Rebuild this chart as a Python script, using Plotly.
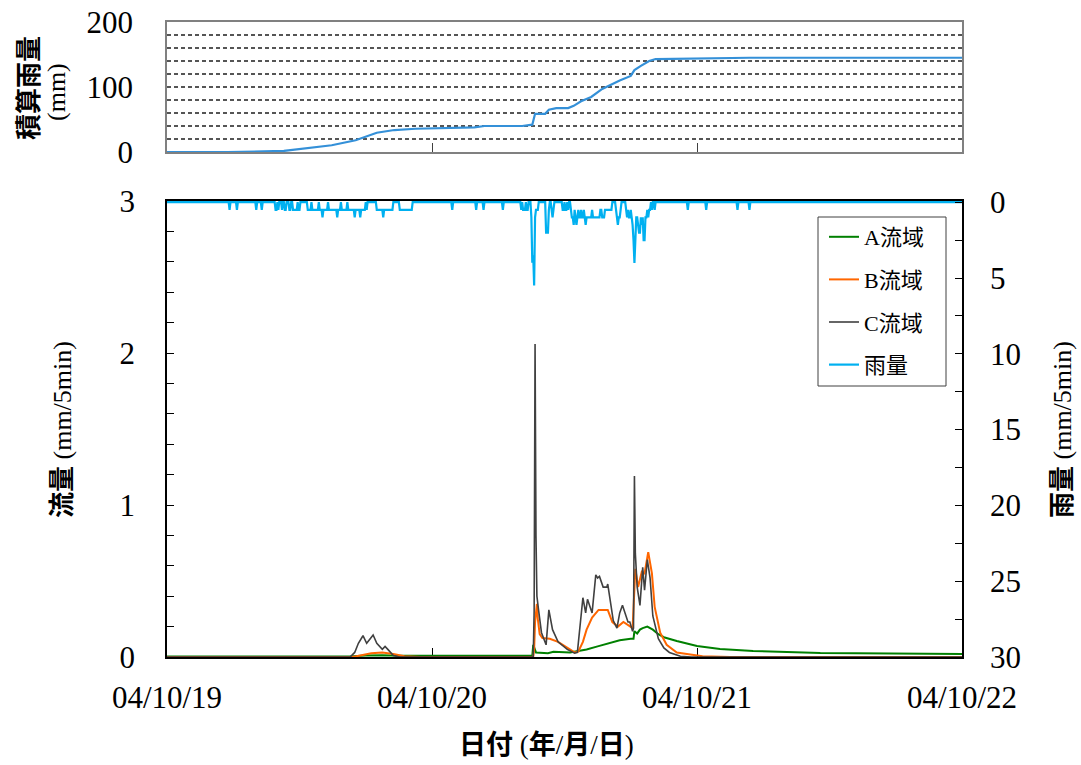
import pandas as pd
import plotly.graph_objects as go

# ---------------- data ----------------
# Cumulative rainfall (mm)
cum_time = ["2004-10-19 00:00", "2004-10-19 05:30", "2004-10-19 10:35", "2004-10-19 14:55",
            "2004-10-19 17:05", "2004-10-19 19:00", "2004-10-19 20:35", "2004-10-19 22:30",
            "2004-10-20 03:50", "2004-10-20 04:45", "2004-10-20 08:10", "2004-10-20 09:05",
            "2004-10-20 09:20", "2004-10-20 10:15", "2004-10-20 10:35", "2004-10-20 11:15",
            "2004-10-20 12:20", "2004-10-20 12:50", "2004-10-20 13:30", "2004-10-20 14:25",
            "2004-10-20 15:25", "2004-10-20 16:00", "2004-10-20 17:00", "2004-10-20 18:00",
            "2004-10-20 18:20", "2004-10-20 18:55", "2004-10-20 19:40", "2004-10-20 20:15",
            "2004-10-21 00:50", "2004-10-21 04:45", "2004-10-22 00:00"]
cum_rain = [0, 0, 1.6, 10.4, 18, 29.6, 33.8, 35.8, 37.9, 40, 40, 42, 58.7, 58.7, 65, 67.5,
            67.5, 71, 78, 84.7, 97, 102, 110, 117, 126, 132.5, 140, 143, 144, 145, 145]

# A basin discharge (mm/5min)
a_time = ["2004-10-19 00:00", "2004-10-19 16:30", "2004-10-19 18:00", "2004-10-19 19:30",
          "2004-10-19 21:00", "2004-10-20 09:05", "2004-10-20 09:10", "2004-10-20 09:25",
          "2004-10-20 10:30", "2004-10-20 11:00", "2004-10-20 12:30", "2004-10-20 14:00",
          "2004-10-20 15:00", "2004-10-20 16:00", "2004-10-20 17:00", "2004-10-20 18:00",
          "2004-10-20 18:15", "2004-10-20 18:20", "2004-10-20 18:35", "2004-10-20 18:50",
          "2004-10-20 19:05", "2004-10-20 19:30", "2004-10-20 20:00", "2004-10-20 20:30",
          "2004-10-20 21:00", "2004-10-20 22:10", "2004-10-21 00:00", "2004-10-21 02:05",
          "2004-10-21 05:05", "2004-10-21 11:10", "2004-10-22 00:00"]
a_flow = [0.003, 0.004, 0.010, 0.012, 0.008, 0.008, 0.08, 0.03, 0.025, 0.035, 0.03, 0.05,
          0.07, 0.09, 0.11, 0.12, 0.12, 0.17, 0.155, 0.18, 0.19, 0.20, 0.18, 0.15, 0.13,
          0.105, 0.072, 0.053, 0.04, 0.026, 0.02]

# B basin discharge (mm/5min)
b_time = ["2004-10-19 00:00", "2004-10-19 16:50", "2004-10-19 17:30", "2004-10-19 18:30",
          "2004-10-19 19:30", "2004-10-19 20:30", "2004-10-19 21:30", "2004-10-19 23:00",
          "2004-10-20 09:10", "2004-10-20 09:15", "2004-10-20 09:20", "2004-10-20 09:30",
          "2004-10-20 09:35", "2004-10-20 09:45", "2004-10-20 10:00", "2004-10-20 10:40",
          "2004-10-20 11:25", "2004-10-20 12:15", "2004-10-20 12:55", "2004-10-20 13:15",
          "2004-10-20 13:40", "2004-10-20 14:00", "2004-10-20 14:30", "2004-10-20 15:05",
          "2004-10-20 15:30", "2004-10-20 15:55", "2004-10-20 16:20", "2004-10-20 16:50",
          "2004-10-20 17:20", "2004-10-20 17:45", "2004-10-20 18:10", "2004-10-20 18:25",
          "2004-10-20 18:40", "2004-10-20 19:00", "2004-10-20 19:15", "2004-10-20 19:35",
          "2004-10-20 19:55", "2004-10-20 20:10", "2004-10-20 20:40", "2004-10-20 21:15",
          "2004-10-20 22:10", "2004-10-20 23:05", "2004-10-21 00:30", "2004-10-21 03:00",
          "2004-10-22 00:00"]
b_flow = [0.0, 0.0, 0.01, 0.025, 0.03, 0.02, 0.005, 0.0, 0.0, 0.05, 0.23, 0.35, 0.25, 0.15,
          0.125, 0.12, 0.10, 0.06, 0.03, 0.035, 0.10, 0.18, 0.26, 0.31, 0.31, 0.31, 0.23,
          0.20, 0.23, 0.21, 0.19, 0.58, 0.46, 0.56, 0.55, 0.69, 0.55, 0.33, 0.16, 0.08,
          0.03, 0.02, 0.005, 0.0, 0.0]

# C basin discharge (mm/5min)
c_time = ["2004-10-19 00:00", "2004-10-19 16:35", "2004-10-19 17:00", "2004-10-19 17:20",
          "2004-10-19 17:45", "2004-10-19 18:05", "2004-10-19 18:40", "2004-10-19 19:00",
          "2004-10-19 19:30", "2004-10-19 19:45", "2004-10-19 20:00", "2004-10-19 20:30",
          "2004-10-19 21:05", "2004-10-20 09:10", "2004-10-20 09:15", "2004-10-20 09:20",
          "2004-10-20 09:25", "2004-10-20 09:30", "2004-10-20 09:40", "2004-10-20 09:55",
          "2004-10-20 10:20", "2004-10-20 10:35", "2004-10-20 10:55", "2004-10-20 11:25",
          "2004-10-20 12:15", "2004-10-20 12:55", "2004-10-20 13:10", "2004-10-20 13:40",
          "2004-10-20 13:55", "2004-10-20 14:05", "2004-10-20 14:30", "2004-10-20 14:50",
          "2004-10-20 15:00", "2004-10-20 15:10", "2004-10-20 15:30", "2004-10-20 15:50",
          "2004-10-20 15:55", "2004-10-20 16:10", "2004-10-20 16:25", "2004-10-20 16:45",
          "2004-10-20 17:00", "2004-10-20 17:15", "2004-10-20 17:30", "2004-10-20 17:45",
          "2004-10-20 17:55", "2004-10-20 18:10", "2004-10-20 18:15", "2004-10-20 18:20",
          "2004-10-20 18:25", "2004-10-20 18:35", "2004-10-20 18:50", "2004-10-20 19:05",
          "2004-10-20 19:15", "2004-10-20 19:30", "2004-10-20 19:45", "2004-10-20 20:00",
          "2004-10-20 20:30", "2004-10-20 21:00", "2004-10-20 21:30", "2004-10-20 22:30",
          "2004-10-20 23:30", "2004-10-22 00:00"]
c_flow = [0.0, 0.0, 0.03, 0.09, 0.14, 0.09, 0.145, 0.09, 0.05, 0.07, 0.05, 0.01, 0.0, 0.0,
          0.3, 2.06, 0.8, 0.4, 0.3, 0.16, 0.08, 0.31, 0.18, 0.10, 0.05, 0.025, 0.03, 0.39,
          0.29, 0.38, 0.29, 0.54, 0.52, 0.53, 0.46, 0.46, 0.48, 0.37, 0.24, 0.19, 0.29, 0.34,
          0.29, 0.23, 0.23, 0.17, 0.19, 1.19, 0.68, 0.46, 0.34, 0.59, 0.44, 0.64, 0.52, 0.27,
          0.12, 0.06, 0.03, 0.005, 0.0, 0.0]

# 5-minute rainfall (mm): start of each rainy spell and its consecutive 5-min totals.
# Intervals not listed had no rain.
rain_spells = [
    ("2004-10-19 05:40", [0.5]),
    ("2004-10-19 06:20", [0.5]),
    ("2004-10-19 08:05", [0.5]),
    ("2004-10-19 08:35", [0.5]),
    ("2004-10-19 09:50", [0.5, 0.5, 0.0, 0.5]),
    ("2004-10-19 10:25", [0.5, 0.0, 0.0, 0.5, 0.5]),
    ("2004-10-19 11:05", [0.5, 0.5, 0.0, 0.0, 0.5, 0.5, 0.5, 0.5, 0.5, 0.0, 0.5, 0.5]),
    ("2004-10-19 12:45", [0.5, 0.5, 0.5, 0.5, 0.0, 0.5, 0.5, 0.5, 0.5, 0.5, 0.5, 0.5,
                          0.0, 0.5, 0.5, 0.5, 1.0]),
    ("2004-10-19 14:10", [0.5, 0.5, 0.5, 0.5, 0.5, 0.0, 0.5, 0.5, 0.5, 0.5, 0.5, 0.5,
                          0.5, 0.5, 0.5, 1.0]),
    ("2004-10-19 15:30", [0.5, 0.5, 0.5, 0.0, 0.5, 0.5, 0.5, 0.5, 0.5, 0.5, 0.0]),
    ("2004-10-19 16:25", [0.5, 0.5, 0.5, 0.5, 0.5, 0.5, 0.5, 1.0, 0.5, 0.5, 0.5, 0.5,
                          0.5, 1.0, 0.5, 0.5, 0.5, 0.5, 0.5]),
    ("2004-10-19 18:05", [0.5]),
    ("2004-10-19 19:00", [0.5, 0.5, 0.5, 0.5, 0.5, 0.5, 0.5, 1.0, 0.5, 0.5, 0.5, 0.5,
                          0.5, 0.5, 0.5, 0.5, 0.5, 0.5]),
    ("2004-10-19 21:05", [0.5, 0.5, 0.5, 0.5, 0.5, 0.5, 0.5, 0.5, 0.5, 0.5, 0.5, 0.5,
                          0.5, 0.5]),
    ("2004-10-20 01:50", [0.5]),
    ("2004-10-20 04:00", [0.5]),
    ("2004-10-20 04:40", [0.5]),
    ("2004-10-20 06:25", [0.5]),
    ("2004-10-20 08:05", [0.5, 0.0, 0.5, 0.5, 0.5, 0.0, 0.5, 0.5]),
    ("2004-10-20 09:00", [1.0, 4.0, 3.5, 5.5, 1.0, 0.5, 0.5, 0.5]),
    ("2004-10-20 10:20", [2.0, 2.0, 2.0, 0.5]),
    ("2004-10-20 10:50", [0.5, 1.0, 0.5]),
    ("2004-10-20 11:50", [0.5, 0.5, 0.0, 0.5, 0.5, 0.0, 0.5]),
    ("2004-10-20 12:35", [0.5, 1.0, 1.0, 1.5, 0.5, 1.0, 1.5, 1.0, 0.5, 1.0, 1.0, 0.5,
                          1.0, 1.0, 0.5, 1.0, 1.5, 1.0, 1.0, 1.0, 1.0, 1.0, 1.0, 0.5,
                          1.0, 1.0, 1.0, 1.0, 1.0, 1.0, 1.0, 1.0, 0.5, 0.5, 1.0, 1.0,
                          1.0, 0.5, 0.5, 0.5, 0.5, 0.5, 0.5, 0.5, 0.5]),
    ("2004-10-20 16:40", [0.5, 1.0, 1.5, 1.0, 1.0, 0.5]),
    ("2004-10-20 17:35", [0.5, 1.0, 0.5, 1.0, 1.0, 0.5, 1.0, 1.5, 2.5, 4.0, 2.5, 1.0,
                          1.0, 1.5, 2.0, 2.0, 1.0, 1.5, 1.0, 2.5, 2.5, 1.0, 1.0, 0.5,
                          1.0, 0.5, 0.5, 0.0, 0.5]),
    ("2004-10-20 20:10", [0.5]),
    ("2004-10-20 23:10", [0.5]),
    ("2004-10-21 00:50", [0.5]),
    ("2004-10-21 03:40", [0.5]),
    ("2004-10-21 04:45", [0.5]),
]

day_ticks = ["2004-10-19", "2004-10-20", "2004-10-21", "2004-10-22"]
day_labels = ["04/10/19", "04/10/20", "04/10/21", "04/10/22"]

# ---------------- build the 5-minute rainfall series ----------------
rain_index = pd.date_range("2004-10-19 00:00", "2004-10-22 00:00", freq="5min")
rain = pd.Series(0.0, index=rain_index)
for start, vals in rain_spells:
    t0 = pd.Timestamp(start)
    for i, v in enumerate(vals):
        rain[t0 + pd.Timedelta(minutes=5 * i)] = v

# ---------------- figure ----------------
SERIF = "Liberation Serif, Noto Sans CJK JP, serif"
W, H = 1081, 765
L, R, T, B = 167, 962, 22, 657          # plot area in pixels
PW, PH = R - L, B - T


def px(x):
    return (x - L) / PW


def py(y):
    return (B - y) / PH


fig = go.Figure()

fig.add_trace(go.Scatter(x=cum_time, y=cum_rain, xaxis="x", yaxis="y", mode="lines",
                         line=dict(color="#3490D8", width=2.2), showlegend=False))

fig.add_trace(go.Scatter(x=a_time, y=a_flow, xaxis="x2", yaxis="y2", mode="lines",
                         name="A流域", legendgroup="a",
                         line=dict(color="#008000", width=2)))
fig.add_trace(go.Scatter(x=b_time, y=b_flow, xaxis="x2", yaxis="y2", mode="lines",
                         name="B流域", legendgroup="b",
                         line=dict(color="#FF6600", width=2)))
fig.add_trace(go.Scatter(x=c_time, y=c_flow, xaxis="x2", yaxis="y2", mode="lines",
                         name="C流域", legendgroup="c",
                         line=dict(color="#404040", width=1.6)))
fig.add_trace(go.Scatter(x=rain.index, y=rain.values, xaxis="x2", yaxis="y3", mode="lines",
                         name="雨量", legendgroup="r",
                         line=dict(color="#00B0F0", width=2.2)))

x_range = ["2004-10-19 00:00", "2004-10-22 00:00"]
top_dom = [py(152), 1.0]
bot_dom = [0.0, py(201)]
tick_font = dict(family=SERIF, size=31, color="black")

fig.update_layout(
    width=W, height=H,
    margin=dict(l=L, r=W - R, t=T, b=H - B),
    paper_bgcolor="white", plot_bgcolor="white",
    font=dict(family=SERIF, size=31, color="black"),
    xaxis=dict(domain=[0, 1], anchor="y", type="date", range=x_range, automargin=False,
               tickvals=day_ticks[1:3], showticklabels=False,
               ticks="inside", ticklen=9, tickwidth=1.2, tickcolor="#404040",
               showline=True, linecolor="#808080", linewidth=1.5, mirror=True,
               showgrid=False, zeroline=False),
    yaxis=dict(domain=top_dom, anchor="x", range=[0, 200], tickvals=[0, 100, 200],
               automargin=False, ticklabeloverflow="allow",
               ticks="", ticklabelstandoff=26, tickfont=tick_font,
               showline=True, linecolor="#808080", linewidth=1.5, mirror=True,
               showgrid=False, zeroline=False,
               minor=dict(tickvals=[20, 40, 60, 80, 100, 120, 140, 160, 180],
                          showgrid=True, gridcolor="#555555", gridwidth=1.6,
                          griddash="4px,3px")),
    xaxis2=dict(domain=[0, 1], anchor="y2", type="date", range=x_range, automargin=False,
                tickvals=day_ticks, ticktext=day_labels, tickfont=tick_font,
                ticklabeloverflow="allow",
                ticks="inside", ticklen=9, tickwidth=1.2, tickcolor="black",
                ticklabelstandoff=12,
                showline=True, linecolor="black", linewidth=1.5, mirror=True,
                showgrid=False, zeroline=False, layer="below traces"),
    yaxis2=dict(domain=bot_dom, anchor="x2", range=[0, 3], tickvals=[0, 1, 2, 3],
                automargin=False, ticklabeloverflow="allow",
                ticks="inside", ticklen=7, tickwidth=1.2, tickcolor="black",
                ticklabelstandoff=24, tickfont=tick_font,
                minor=dict(dtick=0.2, ticks="inside", ticklen=7, tickwidth=1.2,
                           tickcolor="black"),
                showline=True, linecolor="black", linewidth=1.5,
                showgrid=False, zeroline=False),
    yaxis3=dict(overlaying="y2", side="right", anchor="x2", range=[30, -0.08],
                automargin=False, ticklabeloverflow="allow",
                tickvals=[0, 5, 10, 15, 20, 25, 30], tickfont=tick_font,
                ticks="inside", ticklen=7, tickwidth=1.2, tickcolor="black",
                ticklabelstandoff=20,
                minor=dict(dtick=2.5, ticks="inside", ticklen=7, tickwidth=1.2,
                           tickcolor="black"),
                showline=True, linecolor="black", linewidth=1.5,
                showgrid=False, zeroline=False),
    legend=dict(x=px(824), y=py(216), xanchor="left", yanchor="top",
                borderwidth=0, bgcolor="rgba(0,0,0,0)",
                font=dict(family=SERIF, size=22, color="black"),
                tracegroupgap=11, itemwidth=30),
    showlegend=True,
)

# legend frame
fig.add_shape(type="rect", xref="paper", yref="paper",
              x0=px(818), x1=px(946), y0=py(386), y1=py(217),
              line=dict(color="#404040", width=1), fillcolor="white", layer="below")

# axis titles
title_font = dict(family=SERIF, size=26, color="black")
common = dict(xref="paper", yref="paper", showarrow=False, xanchor="center",
              yanchor="middle")
fig.add_annotation(text="<b>積算雨量</b>", x=px(30), y=py(88), textangle=-90,
                   font=dict(family=SERIF, size=26, color="black"), **common)
fig.add_annotation(text="(mm)", x=px(56), y=py(92), textangle=-90,
                   font=dict(family=SERIF, size=26, color="black"), **common)
fig.add_annotation(text="<b>流量</b> (mm/5min)", x=px(62), y=py(430), textangle=-90,
                   font=title_font, **common)
fig.add_annotation(text="<b>雨量</b> (mm/5min)", x=px(1062), y=py(430), textangle=-90,
                   font=title_font, **common)
fig.add_annotation(text="<b>日付</b> (<b>年</b>/<b>月</b>/<b>日</b>)", x=px(546), y=py(745),
                   font=dict(family=SERIF, size=27, color="black"), **common)

fig.write_html("out.html")
